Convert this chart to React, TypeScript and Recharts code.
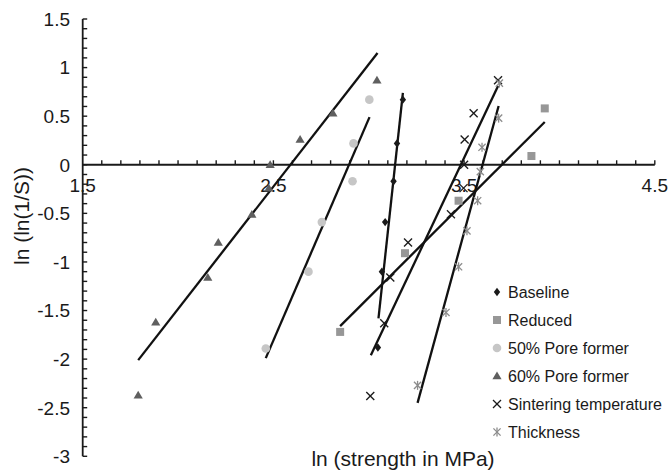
import React from 'react';
import { ScatterChart, Scatter, XAxis, YAxis, Legend } from 'recharts';

const FONT = '"Liberation Sans", Arial, Helvetica, sans-serif';
const INK = '#1a1a1a';

// ---- series names ----
const seriesNames = [
  'Baseline',
  'Reduced',
  '50% Pore former',
  '60% Pore former',
  'Sintering temperature',
  'Thickness',
];

// ---- data points (x = ln strength, y = ln(ln(1/S))) ----
const baselineX = [3.048, 3.069, 3.086, 3.13, 3.148, 3.179];
const baselineY = [-1.88, -1.1, -0.59, -0.17, 0.22, 0.67];

const reducedX = [2.85, 3.19, 3.471, 3.853, 3.923];
const reducedY = [-1.72, -0.91, -0.37, 0.09, 0.58];

const pore50X = [2.46, 2.684, 2.754, 2.915, 2.92, 3.003];
const pore50Y = [-1.89, -1.1, -0.59, -0.17, 0.22, 0.67];

const pore60X = [1.791, 1.883, 2.156, 2.211, 2.387, 2.476, 2.483, 2.64, 2.812, 3.043];
const pore60Y = [-2.37, -1.62, -1.16, -0.8, -0.51, -0.24, 0.0, 0.26, 0.53, 0.87];

const sinterX = [3.008, 3.081, 3.113, 3.206, 3.431, 3.497, 3.5, 3.503, 3.55, 3.678];
const sinterY = [-2.38, -1.63, -1.16, -0.8, -0.51, -0.24, 0.0, 0.26, 0.53, 0.87];

const thickX = [3.256, 3.405, 3.471, 3.515, 3.571, 3.585, 3.594, 3.681, 3.685];
const thickY = [-2.27, -1.52, -1.05, -0.68, -0.37, -0.07, 0.18, 0.48, 0.84];

// ---- linear trend lines: [start, end] ----
const baselineTrendX = [3.051, 3.179];
const baselineTrendY = [-1.58, 0.74];
const reducedTrendX = [2.85, 3.923];
const reducedTrendY = [-1.66, 0.44];
const pore50TrendX = [2.46, 3.004];
const pore50TrendY = [-1.99, 0.49];
const pore60TrendX = [1.791, 3.046];
const pore60TrendY = [-2.01, 1.15];
const sinterTrendX = [3.011, 3.678];
const sinterTrendY = [-1.96, 0.81];
const thickTrendX = [3.256, 3.681];
const thickTrendY = [-2.45, 0.605];

// ---- axis ticks ----
const xDomain = [1.5, 4.5];
const yDomain = [-3, 1.5];
const xMajorTicks = [1.5, 2.5, 3.5, 4.5];
const yMajorTicks = [1.5, 1, 0.5, 0, -0.5, -1, -1.5, -2, -2.5, -3];
const xMinorTicks = Array.from({ length: 31 }, (_, i) => Math.round((1.5 + i * 0.1) * 10) / 10);
const yMinorTicks = Array.from({ length: 46 }, (_, i) => Math.round((-3 + i * 0.1) * 10) / 10);

const zip = (xs: number[], ys: number[]) => xs.map((x, i) => ({ x, y: ys[i] }));
const isIn = (arr: number[], v: number) => arr.some((m) => Math.abs(m - v) < 1e-6);

type Kind = 'diamond' | 'square' | 'circle' | 'triangle' | 'cross' | 'star';

const Marker = ({ kind, cx, cy }: { kind: Kind; cx: number; cy: number }) => {
  if (cx == null || cy == null || isNaN(cx) || isNaN(cy)) return <g />;
  switch (kind) {
    case 'diamond':
      return (
        <polygon
          points={`${cx},${cy - 4.2} ${cx + 3.2},${cy} ${cx},${cy + 4.2} ${cx - 3.2},${cy}`}
          fill={INK}
        />
      );
    case 'square':
      return <rect x={cx - 4} y={cy - 4} width={8} height={8} fill="#979797" />;
    case 'circle':
      return <circle cx={cx} cy={cy} r={4.3} fill="#c6c6c6" />;
    case 'triangle':
      return (
        <polygon
          points={`${cx},${cy - 4.4} ${cx + 4.6},${cy + 3.3} ${cx - 4.6},${cy + 3.3}`}
          fill="#5f5f5f"
        />
      );
    case 'cross':
      return (
        <g stroke={INK} strokeWidth={1.3}>
          <line x1={cx - 4} y1={cy - 4} x2={cx + 4} y2={cy + 4} />
          <line x1={cx - 4} y1={cy + 4} x2={cx + 4} y2={cy - 4} />
        </g>
      );
    case 'star':
    default:
      return (
        <g stroke="#8c8c8c" strokeWidth={1.3}>
          <line x1={cx - 3.6} y1={cy - 3.6} x2={cx + 3.6} y2={cy + 3.6} />
          <line x1={cx - 3.6} y1={cy + 3.6} x2={cx + 3.6} y2={cy - 3.6} />
          <line x1={cx} y1={cy - 4.5} x2={cx} y2={cy + 4.5} />
        </g>
      );
  }
};

const series: { name: string; kind: Kind; pts: { x: number; y: number }[]; trend: { x: number; y: number }[] }[] = [
  { name: seriesNames[0], kind: 'diamond', pts: zip(baselineX, baselineY), trend: zip(baselineTrendX, baselineTrendY) },
  { name: seriesNames[1], kind: 'square', pts: zip(reducedX, reducedY), trend: zip(reducedTrendX, reducedTrendY) },
  { name: seriesNames[2], kind: 'circle', pts: zip(pore50X, pore50Y), trend: zip(pore50TrendX, pore50TrendY) },
  { name: seriesNames[3], kind: 'triangle', pts: zip(pore60X, pore60Y), trend: zip(pore60TrendX, pore60TrendY) },
  { name: seriesNames[4], kind: 'cross', pts: zip(sinterX, sinterY), trend: zip(sinterTrendX, sinterTrendY) },
  { name: seriesNames[5], kind: 'star', pts: zip(thickX, thickY), trend: zip(thickTrendX, thickTrendY) },
];

const xAxisPoints = xMinorTicks.map((x) => ({ x, y: 0 }));

const XTickShape = (props: any) => {
  const { cx, cy, payload } = props;
  const v = payload?.x ?? 0;
  const major = isIn(xMajorTicks, v);
  return (
    <g>
      {v > 1.5 + 1e-6 && <line x1={cx} x2={cx} y1={cy} y2={cy - 4.5} stroke={INK} strokeWidth={1.4} />}
      {major && (
        <text x={cx} y={cy + 27.3} textAnchor="middle" fontSize={19} fontFamily={FONT} fill={INK}>
          {String(v)}
        </text>
      )}
    </g>
  );
};

const YTick = (props: any) => {
  const { x, y, payload } = props;
  const v = payload?.value ?? 0;
  const major = isIn(yMajorTicks, v);
  return (
    <g>
      <line x1={x} x2={x + 4.5} y1={y} y2={y} stroke={INK} strokeWidth={1.4} />
      {major && (
        <text x={x - 12.7} y={y} dy="0.36em" textAnchor="end" fontSize={19} fontFamily={FONT} fill={INK}>
          {String(v)}
        </text>
      )}
    </g>
  );
};

const Empty = () => <g />;

const LegendContent = () => (
  <svg width={183} height={172} style={{ display: 'block', overflow: 'visible' }}>
    {series.map((s, i) => (
      <g key={s.name}>
        <Marker kind={s.kind} cx={10} cy={14 + 28 * i} />
        <text x={21} y={14 + 28 * i} dy="0.36em" fontSize={16} fontFamily={FONT} fill={INK}>
          {s.name}
        </text>
      </g>
    ))}
  </svg>
);

export default function App() {
  return (
    <div style={{ position: 'absolute', left: 0, top: 0, width: 670, height: 474, background: '#fff' }}>
      <ScatterChart
        width={670}
        height={474}
        margin={{ top: 19, right: 15.2, bottom: 17.7, left: 22.7 }}
      >
        <XAxis type="number" dataKey="x" domain={xDomain} hide />
        <YAxis
          type="number"
          dataKey="y"
          domain={yDomain}
          width={60}
          ticks={yMinorTicks}
          interval={0}
          tickSize={0}
          tickMargin={0}
          tick={<YTick />}
          axisLine={{ stroke: INK, strokeWidth: 1.8 }}
          tickLine={false}
        />
        <Legend
          layout="vertical"
          align="center"
          verticalAlign="middle"
          content={<LegendContent />}
          wrapperStyle={{ position: 'absolute', left: 487, top: 278, width: 183, height: 172 }}
        />
        <Scatter
          name="x-axis"
          data={xAxisPoints}
          shape={<XTickShape />}
          line={{ stroke: INK, strokeWidth: 1.8 }}
          legendType="none"
          isAnimationActive={false}
        />
        {series.map((s) => (
          <Scatter
            key={s.name + '-trend'}
            name={s.name + ' trend'}
            data={s.trend}
            shape={<Empty />}
            line={{ stroke: '#111', strokeWidth: 2.3 }}
            legendType="none"
            isAnimationActive={false}
          />
        ))}
        {series.map((s) => (
          <Scatter
            key={s.name}
            name={s.name}
            data={s.pts}
            shape={(p: any) => <Marker kind={s.kind} cx={p.cx} cy={p.cy} />}
            isAnimationActive={false}
          />
        ))}
      </ScatterChart>
      <svg
        width={670}
        height={474}
        style={{ position: 'absolute', left: 0, top: 0, pointerEvents: 'none' }}
      >
        <text x={403} y={466} textAnchor="middle" fontSize={21} fontFamily={FONT} fill={INK}>
          ln (strength in MPa)
        </text>
        <text
          transform="translate(28.6,216) rotate(-90)"
          textAnchor="middle"
          fontSize={21}
          fontFamily={FONT}
          fill={INK}
        >
          ln (ln(1/S))
        </text>
      </svg>
    </div>
  );
}
